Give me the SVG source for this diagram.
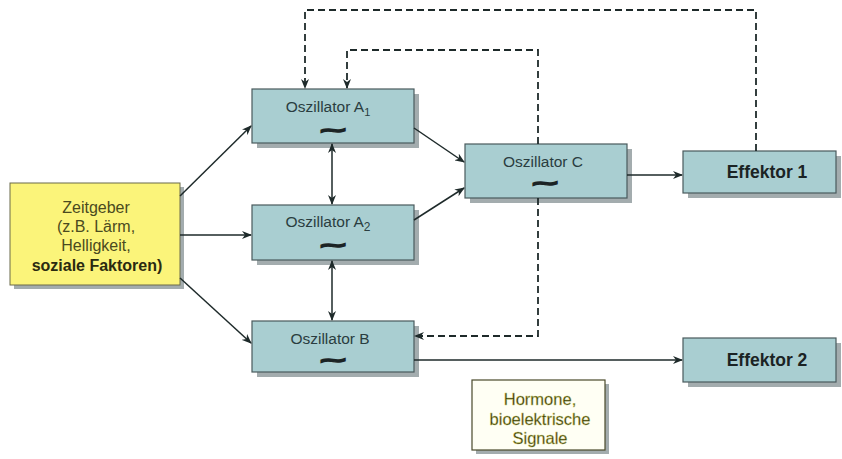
<svg xmlns="http://www.w3.org/2000/svg" width="842" height="459" viewBox="0 0 842 459">
<defs>
<marker id="ah" markerWidth="10" markerHeight="8" refX="9" refY="4" orient="auto" markerUnits="userSpaceOnUse">
<path d="M0,0 L10,4 L0,8 L3,4 Z" fill="#1e2a2a"/>
</marker>
<marker id="as" markerWidth="10" markerHeight="8" refX="1" refY="4" orient="auto" markerUnits="userSpaceOnUse">
<path d="M10,0 L0,4 L10,8 L7,4 Z" fill="#1e2a2a"/>
</marker>
</defs>
<style>
.box{fill:#a9ced1;stroke:#4a5a5c;stroke-width:1.2}
.sh{fill:#a3acae}
.t{font-family:"Liberation Sans",Arial,sans-serif;font-size:15.5px;fill:#2a3d40;text-anchor:middle}
.z{font-family:"Liberation Sans",Arial,sans-serif;font-size:16px;fill:#4a4a20;text-anchor:middle}
.h{font-family:"Liberation Sans",Arial,sans-serif;font-size:16.5px;fill:#33330c;text-anchor:middle;stroke:#c8c860;stroke-width:0.4}
.til{font-family:"DejaVu Sans",sans-serif;font-size:18px;font-weight:bold;fill:#1b2324;stroke:#1b2324;stroke-width:1.4;text-anchor:middle}
.b{font-family:"Liberation Sans",Arial,sans-serif;font-size:17.5px;font-weight:bold;fill:#1b2324;text-anchor:middle}
.c{stroke:#1e2a2a;stroke-width:1.5;fill:none}
.d{stroke:#1e2a2a;stroke-width:1.8;fill:none;stroke-dasharray:7,4}
</style>
<rect width="842" height="459" fill="#ffffff"/>
<g id="zeitgeber">
<rect x="14" y="187" width="170" height="102" class="sh"/>
<rect x="10" y="183" width="170" height="102" fill="#fbf47a" stroke="#6a6a4a" stroke-width="1"/>
<text x="96" y="213" class="z">Zeitgeber</text>
<text x="96" y="232" class="z">(z.B. Lärm,</text>
<text x="96" y="251" class="z">Helligkeit,</text>
<text x="97" y="271" class="z" style="font-weight:bold;fill:#2a2a10">soziale Faktoren)</text>
</g>
<g id="osc-a1">
<rect x="257" y="94" width="162" height="54" class="sh"/>
<rect x="252" y="89" width="162" height="54" class="box"/>
<text x="328" y="112" class="t">Oszillator A<tspan font-size="11" dy="4">1</tspan></text>
<text x="0" y="0" class="til" transform="translate(333,136) scale(2,1)">~</text>
</g>
<g id="osc-a2">
<rect x="257" y="210" width="162" height="55" class="sh"/>
<rect x="252" y="205" width="162" height="55" class="box"/>
<text x="328" y="227" class="t">Oszillator A<tspan font-size="12" dy="4">2</tspan></text>
<text x="0" y="0" class="til" transform="translate(333,251) scale(2,1)">~</text>
</g>
<g id="osc-b">
<rect x="257" y="326" width="162" height="51" class="sh"/>
<rect x="252" y="321" width="162" height="51" class="box"/>
<text x="330" y="344" class="t">Oszillator B</text>
<text x="0" y="0" class="til" transform="translate(333,366) scale(2,1)">~</text>
</g>
<g id="osc-c">
<rect x="470" y="149" width="162" height="54" class="sh"/>
<rect x="465" y="144" width="162" height="54" class="box"/>
<text x="543" y="167" class="t">Oszillator C</text>
<text x="0" y="0" class="til" transform="translate(545,189) scale(2,1)">~</text>
</g>
<g id="effektor1">
<rect x="688" y="156" width="153" height="42" class="sh"/>
<rect x="683" y="151" width="153" height="42" class="box"/>
<text x="767" y="178" class="b">Effektor 1</text>
</g>
<g id="effektor2">
<rect x="688" y="343" width="153" height="44" class="sh"/>
<rect x="683" y="338" width="153" height="44" class="box"/>
<text x="767" y="366" class="b">Effektor 2</text>
</g>
<g id="hormone">
<rect x="476" y="384" width="133" height="70" class="sh"/>
<rect x="472" y="380" width="133" height="70" fill="#fffff4" stroke="#4a4a2a" stroke-width="1.2"/>
<text x="540" y="405" class="h">Hormone,</text>
<text x="540" y="425" class="h">bioelektrische</text>
<text x="540" y="444" class="h">Signale</text>
</g>
<g id="connectors">
<line x1="180" y1="196" x2="251" y2="126" class="c" marker-end="url(#ah)"/>
<line x1="180" y1="235" x2="251" y2="235" class="c" marker-end="url(#ah)"/>
<line x1="180" y1="278" x2="251" y2="343" class="c" marker-end="url(#ah)"/>
<line x1="332" y1="144" x2="332" y2="204" class="c" marker-start="url(#as)" marker-end="url(#ah)"/>
<line x1="332" y1="261" x2="332" y2="320" class="c" marker-start="url(#as)" marker-end="url(#ah)"/>
<line x1="414" y1="128" x2="464" y2="162" class="c" marker-end="url(#ah)"/>
<line x1="414" y1="220" x2="464" y2="188" class="c" marker-end="url(#ah)"/>
<line x1="627" y1="175" x2="682" y2="175" class="c" marker-end="url(#ah)"/>
<line x1="414" y1="360" x2="682" y2="360" class="c" marker-end="url(#ah)"/>
<path d="M756,151 V10 H305 V88" class="d" marker-end="url(#ah)"/>
<path d="M538,144 V50 H347 V88" class="d" marker-end="url(#ah)"/>
<path d="M538,198 V336 H415" class="d" marker-end="url(#ah)"/>
</g>
</svg>
